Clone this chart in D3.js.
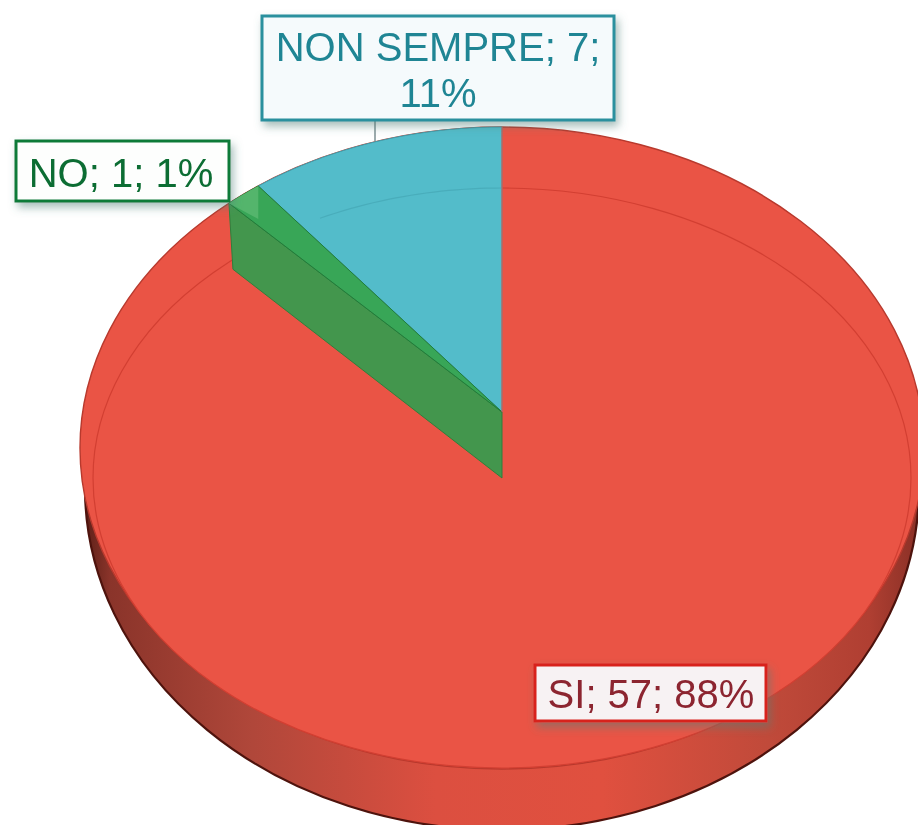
<!DOCTYPE html>
<html><head><meta charset="utf-8">
<script src="https://cdn.jsdelivr.net/npm/d3@7"></script>
<style>html,body{margin:0;padding:0;background:#fff;overflow:hidden}svg{display:block;filter:blur(.7px)}text{font-family:"Liberation Sans",Arial,sans-serif}</style>
</head><body><div id="c"></div>
<script>
const categories=["SI","NO","NON SEMPRE"];
const values=[57,1,7];
const percents=["88%","1%","11%"];
const sliceColors=["#ea5445","#38a657","#53bcca"];
const wallColors=["#d9493b","#43964d"];
const labelLines=[["SI; 57; 88%"],["NO; 1; 1%"],["NON SEMPRE; 7;","11%"]];

const W=918,H=825;
const svg=d3.select("#c").append("svg").attr("width",W).attr("height",H);
const defs=svg.append("defs");
const grad=defs.append("linearGradient").attr("id","wall");
[[0,"#5e2018"],[.03,"#8a342a"],[.2,"#b0473a"],[.42,"#dc4f40"],[.62,"#e0503f"],[.82,"#c04a3a"],[.94,"#b03f32"],[1,"#8a3026"]]
 .forEach(s=>grad.append("stop").attr("offset",s[0]).attr("stop-color",s[1]));
const f=defs.append("filter").attr("id","sh").attr("x","-15%").attr("y","-25%").attr("width","130%").attr("height","160%");
f.append("feDropShadow").attr("dx",3).attr("dy",5).attr("stdDeviation",4).attr("flood-color","#4d7f77").attr("flood-opacity",.5);

const cx=502;
const upper={cy:448,rx:422,ry:321};   // back rim
const lower={cy:488,rx:417,ry:342};   // outer wall
const face={cy:478,rx:409,ry:290};    // faint inner rim
const apex={x:cx,y:412};
const depth=66;

const arcs=d3.pie().value(d=>d).sort(null)(values);
// foreshortening of the tilted view: data angle -> ellipse parameter
const skew=d3.scaleLinear().domain([0,2*Math.PI]).range([0,2*Math.PI*0.91]);
const rim=(a,e)=>{const t=skew(2*Math.PI-a);return [cx-e.rx*Math.sin(t),e.cy-e.ry*Math.cos(t)];};
const curve=d3.line();
const rimPts=(a0,a1,e)=>d3.range(0,25).map(i=>rim(a0+(a1-a0)*i/24,e));
const ell=(g,e,fill,stroke,sw)=>g.append("ellipse").attr("cx",cx).attr("cy",e.cy).attr("rx",e.rx).attr("ry",e.ry).attr("fill",fill).attr("stroke",stroke).attr("stroke-width",sw);

const g=svg.append("g");
ell(g,lower,"url(#wall)","#4e130d",2.2);
ell(g,upper,sliceColors[0],"#b8392d",1.4);
ell(g,face,sliceColors[0],"#d23f32",1.2);

const no=arcs[1],ns=arcs[2];
// teal slice
g.append("path").attr("fill",sliceColors[2]).attr("stroke","#3f9fae").attr("stroke-width",1)
 .attr("d",curve([[apex.x,apex.y],...rimPts(ns.startAngle,ns.endAngle,upper)])+"Z");
// faint continuation of the inner rim across the teal slice
const tealArc=d3.range(0,25).map(i=>{const x=cx-(i/24)*182;return [x,face.cy-face.ry*Math.sqrt(1-((x-cx)/face.rx)**2)];});
g.append("path").attr("fill","none").attr("stroke","#49adbb").attr("stroke-width",1.2).attr("d",curve(tealArc));
// green wall
const pNo=rim(no.startAngle,upper);
g.append("path").attr("fill",wallColors[1]).attr("stroke","#2f7f3c").attr("stroke-width",1)
 .attr("d",curve([pNo,[pNo[0]+4,pNo[1]+depth],[apex.x,apex.y+depth],[apex.x,apex.y]])+"Z");
// green top sliver
g.append("path").attr("fill",sliceColors[1]).attr("stroke","#1f7d3b").attr("stroke-width",1)
 .attr("d",curve([[apex.x,apex.y],...rimPts(no.startAngle,no.endAngle,upper)])+"Z");
const pNs=rim(no.endAngle,upper);
g.append("path").attr("fill","#54b56c")
 .attr("d",curve([pNo,...rimPts(no.startAngle,no.endAngle,upper).slice(1),[pNs[0],pNs[1]+33]])+"Z");
// split line between red and teal on the vertical
g.append("line").attr("x1",cx).attr("x2",cx).attr("y1",upper.cy-upper.ry).attr("y2",apex.y).attr("stroke","#d8574f").attr("stroke-width",1);

// leader
g.append("line").attr("x1",375).attr("x2",375).attr("y1",118).attr("y2",141).attr("stroke","#7d8f92").attr("stroke-width",1.5);

// labels
const boxes=[{x:535,y:665,w:231,h:56,stroke:"#d8211b",fill:"#f7f2f3",text:"#8c2530",tx:651,base:[708]},
 {x:16,y:141,w:213,h:60,stroke:"#0e7a38",fill:"#fdfefd",text:"#0c6d33",tx:121,base:[187]},
 {x:262,y:16,w:352,h:104,stroke:"#2b909e",fill:"#f5fafc",text:"#1f8594",tx:438,base:[61,107]}];
boxes.forEach((b,i)=>{
 const l=svg.append("g");
 l.append("rect").attr("x",b.x).attr("y",b.y).attr("width",b.w).attr("height",b.h).attr("fill",b.fill).attr("stroke",b.stroke).attr("stroke-width",3).attr("filter","url(#sh)");
 labelLines[i].forEach((t,j)=>l.append("text").attr("x",b.tx).attr("y",b.base[j]).attr("text-anchor","middle").attr("font-size",40).attr("fill",b.text).text(t));
});
</script></body></html>
